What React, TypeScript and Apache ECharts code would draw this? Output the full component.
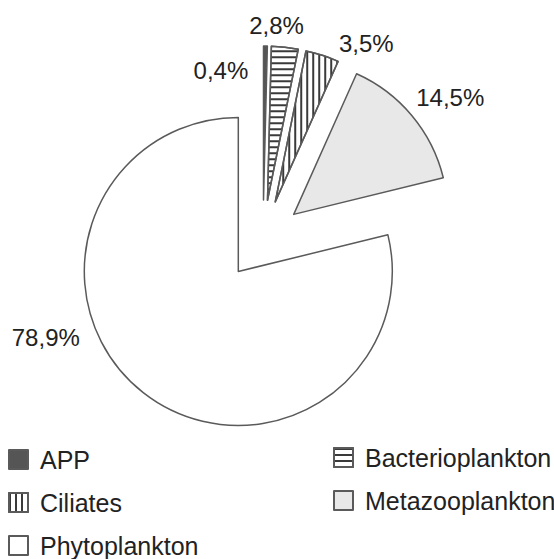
import React, { useEffect, useRef } from "react";
import * as echarts from "echarts";

// ---- data ----
const categories = ["APP", "Bacterioplankton", "Ciliates", "Metazooplankton", "Phytoplankton"];
const values = [0.4, 2.8, 3.5, 14.5, 78.9];
const legendLeftColumn = ["APP", "Ciliates", "Phytoplankton"];
const legendRightColumn = ["Bacterioplankton", "Metazooplankton"];

// ---- styles ----
const FONT = "'Liberation Sans', Arial, sans-serif";
const BORDER = "#5a5a5a";
const fills = ["#555555", "#ffffff", "#ffffff", "#e8e8e8", "#ffffff"];
const decals: any[] = [
  null,
  { symbol: "rect", symbolSize: 1, dashArrayX: [1, 0], dashArrayY: [2, 4], color: "#3a3a3a", rotation: 0 },
  { symbol: "rect", symbolSize: 1, dashArrayX: [2, 4], dashArrayY: [1, 0], color: "#3a3a3a", rotation: 0 },
  null,
  null,
];
// label nudges relative to the library's outside label position
const labelNudge: number[][] = [
  [-77, 36],
  [-42, -10],
  [8, 0],
  [-10, -11],
  [-51, -65],
];

export default function App() {
  const ref = useRef<HTMLDivElement>(null);
  useEffect(() => {
    if (!ref.current) return;
    const chart = echarts.init(ref.current, null, { renderer: "svg" });
    const data = categories.map((name, i) => {
      const itemStyle: any = { color: fills[i], borderColor: BORDER, borderWidth: 1.5 };
      if (decals[i]) itemStyle.decal = decals[i];
      return { name, value: values[i], selected: true, itemStyle };
    });
    const legendText = { fontFamily: FONT, fontSize: 25, color: "#222", lineHeight: 25, padding: [0, 0, 0, 7] };
    chart.setOption({
      animation: false,
      backgroundColor: "#ffffff",
      legend: [
        {
          data: legendLeftColumn,
          orient: "vertical",
          left: 8,
          top: 447,
          padding: 0,
          itemGap: 18,
          itemWidth: 19,
          itemHeight: 19,
          icon: "rect",
          selectedMode: false,
          textStyle: legendText,
        },
        {
          data: legendRightColumn,
          orient: "vertical",
          left: 333,
          top: 445,
          padding: 0,
          itemGap: 18,
          itemWidth: 19,
          itemHeight: 19,
          icon: "rect",
          selectedMode: false,
          textStyle: legendText,
        },
      ],
      series: [
        {
          type: "pie",
          center: [263, 240],
          radius: 154,
          startAngle: 90,
          clockwise: true,
          selectedMode: "multiple",
          selectedOffset: 40,
          avoidLabelOverlap: false,
          emphasis: { disabled: true },
          select: { itemStyle: { borderColor: BORDER, borderWidth: 1.5 } },
          label: {
            show: true,
            position: "outside",
            fontFamily: FONT,
            fontSize: 24,
            color: "#222",
            formatter: (p: any) => values[p.dataIndex].toFixed(1).replace(".", ",") + "%",
          },
          labelLine: { show: false, length: 12, length2: 0 },
          labelLayout: (p: any) => ({ dx: labelNudge[p.dataIndex][0], dy: labelNudge[p.dataIndex][1] }),
          data,
        },
      ],
    });
    return () => chart.dispose();
  }, []);
  return (
    <div
      ref={ref}
      style={{ position: "fixed", left: 0, top: 0, width: 554, height: 559, background: "#fff" }}
    />
  );
}
